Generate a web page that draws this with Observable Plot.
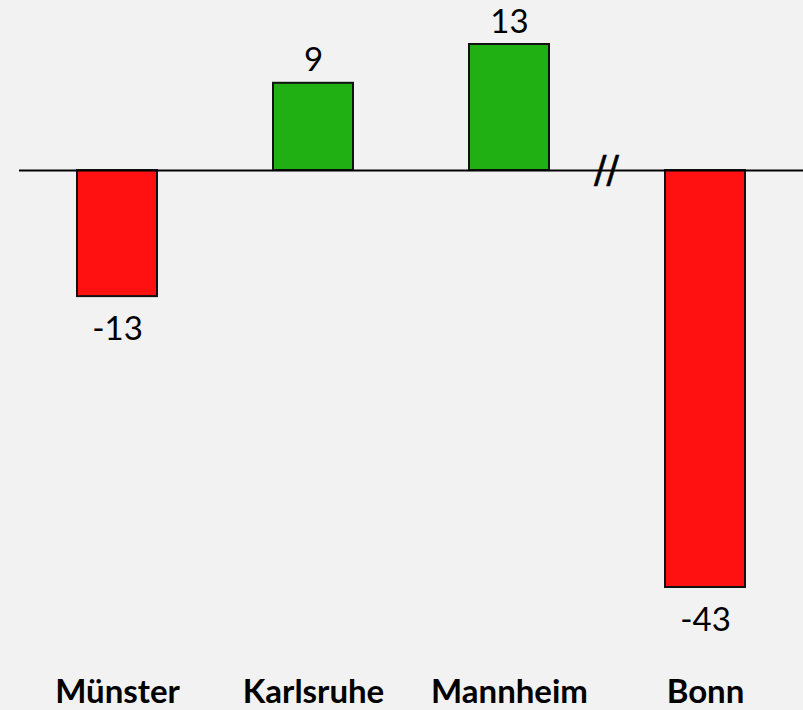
<!DOCTYPE html>
<html>
<head>
<meta charset="utf-8">
<script src="https://cdn.jsdelivr.net/npm/d3@7"></script>
<script src="https://cdn.jsdelivr.net/npm/@observablehq/plot@0.6"></script>
<style>
  html, body { margin: 0; padding: 0; background: #f2f2f2; }
  #chart svg { display: block; background: #f2f2f2; }
</style>
</head>
<body>
<div id="chart"></div>
<script>
const cities = ["Münster", "Karlsruhe", "Mannheim", "Bonn"];
const values = [-13, 9, 13, -43];
const breakMarkText = "//";

const data = cities.map((c, i) => ({city: c, value: values[i], sign: values[i] < 0 ? "neg" : "pos"}));
const pos = data.filter(d => d.value >= 0);
const neg = data.filter(d => d.value < 0);

const chart = Plot.plot({
  width: 803,
  height: 710,
  marginLeft: 19,
  marginRight: 0,
  marginTop: 0,
  marginBottom: 31,
  style: {background: "#f2f2f2", fontFamily: "Lato, 'Open Sans', sans-serif", color: "#000"},
  x: {domain: cities, paddingInner: 0.59, paddingOuter: 0.295, label: null},
  y: {domain: [-43, 13], range: [587, 44], axis: null},
  color: {domain: ["neg", "pos"], range: ["#ff1111", "#20b014"]},
  marks: [
    Plot.barY(data, {x: "city", y: "value", fill: "sign", stroke: "#111", strokeWidth: 2}),
    Plot.ruleY([0], {stroke: "#000", strokeWidth: 2}),
    Plot.text(pos, {x: "city", y: "value", text: d => String(d.value), lineAnchor: "bottom", dy: -12, fontSize: 33, fill: "#000"}),
    Plot.text(neg, {x: "city", y: "value", text: d => String(d.value), lineAnchor: "top", dy: 20, fontSize: 33, fill: "#000"}),
    Plot.text([0], {x: () => "Bonn", y: 0, text: () => breakMarkText, dx: -99, fontSize: 37, fontFamily: "DejaVu Sans", lineAnchor: "middle", fill: "#000", stroke: "#000", strokeWidth: 0.6}),
    Plot.axisX({anchor: "bottom", tickSize: 0, tickPadding: 0, fontSize: 33, fontWeight: "bold", label: null})
  ]
});
document.getElementById("chart").appendChild(chart);
</script>
</body>
</html>
